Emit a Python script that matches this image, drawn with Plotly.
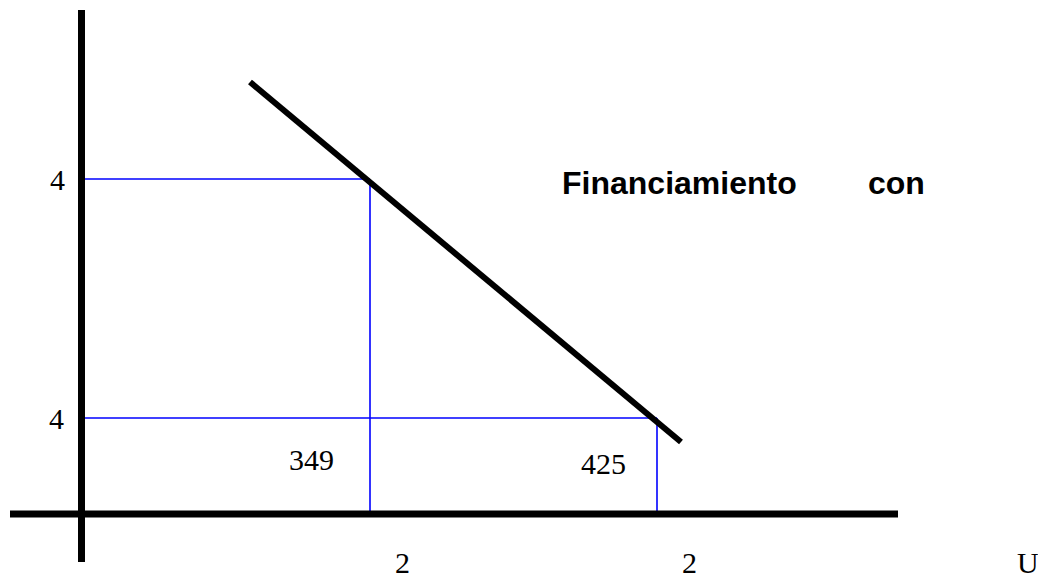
import plotly.graph_objects as go

# ---- data (in chart units; axes cross at 0,0) ----
demand_q = [16.85, 59.95]          # demand line endpoints (quantity)
demand_p = [43.2, 7.2]             # demand line endpoints (price)
q_points = [28.85, 57.55]          # quantities marked by blue guides
p_points = [33.5, 9.6]             # prices marked by blue guides
y_labels = ["4", "4"]
x_labels = ["2", "2"]
area_labels = ["349", "425"]
area_label_pos = [(22.95, 5.5), (52.15, 5.1)]
x_axis_extent = [-7.15, 81.65]
y_axis_extent = [-4.8, 50.4]
title_words = ["Financiamiento", "con"]
axis_label = "U"

fig = go.Figure()

BLUE = "#0000FF"
# blue guide lines
for q, p in zip(q_points, p_points):
    fig.add_trace(go.Scatter(x=[0, q], y=[p, p], mode="lines",
                             line=dict(color=BLUE, width=1.6), hoverinfo="skip"))
    fig.add_trace(go.Scatter(x=[q, q], y=[0, p], mode="lines",
                             line=dict(color=BLUE, width=1.6), hoverinfo="skip"))

# axes
fig.add_trace(go.Scatter(x=x_axis_extent, y=[0, 0], mode="lines",
                         line=dict(color="black", width=7), hoverinfo="skip"))
fig.add_trace(go.Scatter(x=[0, 0], y=y_axis_extent, mode="lines",
                         line=dict(color="black", width=7), hoverinfo="skip"))

# demand line
fig.add_trace(go.Scatter(x=demand_q, y=demand_p, mode="lines",
                         line=dict(color="black", width=6), hoverinfo="skip"))

serif = dict(family="Liberation Serif, Times New Roman, serif", size=30, color="black")
sans_b = dict(family="Liberation Sans, Arial, sans-serif", size=32, color="black")

ann = []
for lab, p, dx in zip(y_labels, p_points, [-2.45, -2.55]):
    ann.append(dict(x=dx, y=p, text=lab, showarrow=False, font=serif,
                    xanchor="center", yanchor="middle"))
for lab, q in zip(x_labels, q_points):
    ann.append(dict(x=q + 3.2, y=-4.8, text=lab, showarrow=False, font=serif,
                    xanchor="center", yanchor="middle"))
for lab, (ax, ay) in zip(area_labels, area_label_pos):
    ann.append(dict(x=ax, y=ay, text=lab, showarrow=False, font=serif,
                    xanchor="center", yanchor="middle"))
ann.append(dict(x=94.65, y=-4.85, text=axis_label, showarrow=False, font=serif,
                xanchor="center", yanchor="middle", borderpad=0))
for w, tx in zip(title_words, [59.75, 81.45]):
    ann.append(dict(x=tx, y=33.1, text="<b>%s</b>" % w, showarrow=False, font=sans_b,
                    xanchor="center", yanchor="middle"))

fig.update_layout(
    width=1038, height=573,
    margin=dict(l=0, r=0, t=0, b=0),
    paper_bgcolor="white", plot_bgcolor="white",
    showlegend=False,
    annotations=ann,
    xaxis=dict(range=[-7.35, 96.45], visible=False, fixedrange=True),
    yaxis=dict(range=[-6.7, 50.6], visible=False, fixedrange=True),
)

fig.write_html("out.html")
